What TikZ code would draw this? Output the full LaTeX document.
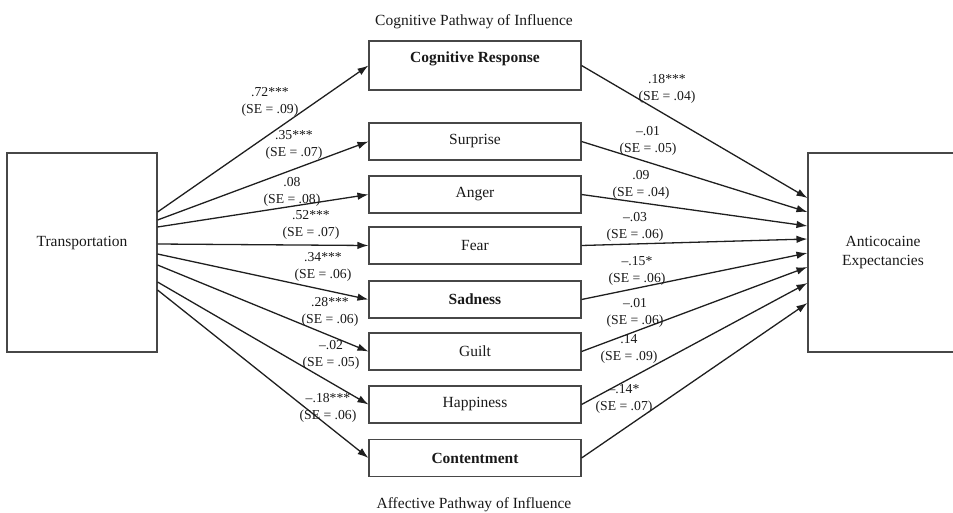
\documentclass[tikz,border=0pt]{standalone}
\usepackage{fontspec}
\setmainfont{Liberation Serif}
\usepackage{tikz}
\usetikzlibrary{arrows.meta}
\newcommand{\boxfont}{\fontsize{15.5}{19.5}\selectfont}
\newcommand{\coeffont}{\fontsize{13.7}{17}\selectfont}

\begin{document}
\begin{tikzpicture}[
    x=1pt, y=-1pt,
    box/.style={draw=black!72, line width=1.1pt, inner sep=0pt, minimum width=212pt, minimum height=37pt, font=\boxfont, text=black!90},
    big box/.style={draw=black!72, line width=1.1pt, inner sep=0pt, minimum width=150pt, minimum height=199pt, align=center, font=\boxfont, text=black!90},
    path line/.style={line width=1.3pt, draw=black!88, -{Latex[length=11pt, width=7.5pt]}},
    coef/.style={align=center, inner sep=0pt, font=\coeffont, text=black!90},
    pathway title/.style={font=\boxfont, text=black!90}
    ]

    \clip (0,0) rectangle (953,512);

    % outer boxes
    \node[big box, text depth=23pt] (trans) at (82,252.5) {Transportation};
    \node[big box] (expect) at (883,252.5) {Anticocaine\\Expectancies};

    % mediators
    \node[box, minimum height=49pt, text depth=17pt] (cogn) at (475,65.5) {\textbf{Cognitive Response}};
    \node[box] (surprise) at (475,141.5) {Surprise};
    \node[box] (anger) at (475,194.5) {Anger};
    \node[box] (fear) at (475,245.5) {Fear};
    \node[box] (sadness) at (475,299.5) {\textbf{Sadness}};
    \node[box] (guilt) at (475,351.5) {Guilt};
    \node[box] (happiness) at (475,404.5) {Happiness};
    \node[box] (content) at (475,458) {\textbf{Contentment}};

    % titles
    \node[pathway title] (cogtitle) at (474,22) {Cognitive Pathway of Influence};
    \node[pathway title] (afftitle) at (474,505) {Affective Pathway of Influence};

    % transportation -> mediators
    \draw[path line] ([yshift=40.5pt]trans.east) -- (cogn.west);
    \draw[path line] ([yshift=32.5pt]trans.east) -- (surprise.west);
    \draw[path line] ([yshift=25.5pt]trans.east) -- (anger.west);
    \draw[path line] ([yshift=8.5pt]trans.east) -- (fear.west);
    \draw[path line] ([yshift=-1.5pt]trans.east) -- (sadness.west);
    \draw[path line] ([yshift=-12.5pt]trans.east) -- (guilt.west);
    \draw[path line] ([yshift=-29.5pt]trans.east) -- (happiness.west);
    \draw[path line] ([yshift=-37.5pt]trans.east) -- (content.west);

    % mediators -> expectancies
    \draw[path line] (cogn.east) -- ([yshift=54.5pt]expect.west);
    \draw[path line] (surprise.east) -- ([yshift=40.5pt]expect.west);
    \draw[path line] (anger.east) -- ([yshift=26.5pt]expect.west);
    \draw[path line] (fear.east) -- ([yshift=13.5pt]expect.west);
    \draw[path line] (sadness.east) -- ([yshift=-0.5pt]expect.west);
    \draw[path line] (guilt.east) -- ([yshift=-14.5pt]expect.west);
    \draw[path line] (happiness.east) -- ([yshift=-30.5pt]expect.west);
    \draw[path line] (content.east) -- ([yshift=-50.5pt]expect.west);

    % coefficients, a paths
    \node[coef] (a1) at (270,101.5) {.72***\\(SE = .09)};
    \node[coef] (a2) at (294,145) {.35***\\(SE = .07)};
    \node[coef] (a3) at (292,192) {.08\\(SE = .08)};
    \node[coef] (a4) at (311,224.5) {.52***\\(SE = .07)};
    \node[coef] (a5) at (323,266.5) {.34***\\(SE = .06)};
    \node[coef] (a6) at (330,311.5) {.28***\\(SE = .06)};
    \node[coef] (a7) at (331,355) {--.02\\(SE = .05)};
    \node[coef] (a8) at (328,408) {--.18***\\(SE = .06)};

    % coefficients, b paths
    \node[coef] (b1) at (667,88.5) {.18***\\(SE = .04)};
    \node[coef] (b2) at (648,141) {--.01\\(SE = .05)};
    \node[coef] (b3) at (641,185) {.09\\(SE = .04)};
    \node[coef] (b4) at (635,227) {--.03\\(SE = .06)};
    \node[coef] (b5) at (637,271) {--.15*\\(SE = .06)};
    \node[coef] (b6) at (635,312.5) {--.01\\(SE = .06)};
    \node[coef] (b7) at (629,349) {.14\\(SE = .09)};
    \node[coef] (b8) at (624,398.5) {--.14*\\(SE = .07)};
\end{tikzpicture}
\end{document}
